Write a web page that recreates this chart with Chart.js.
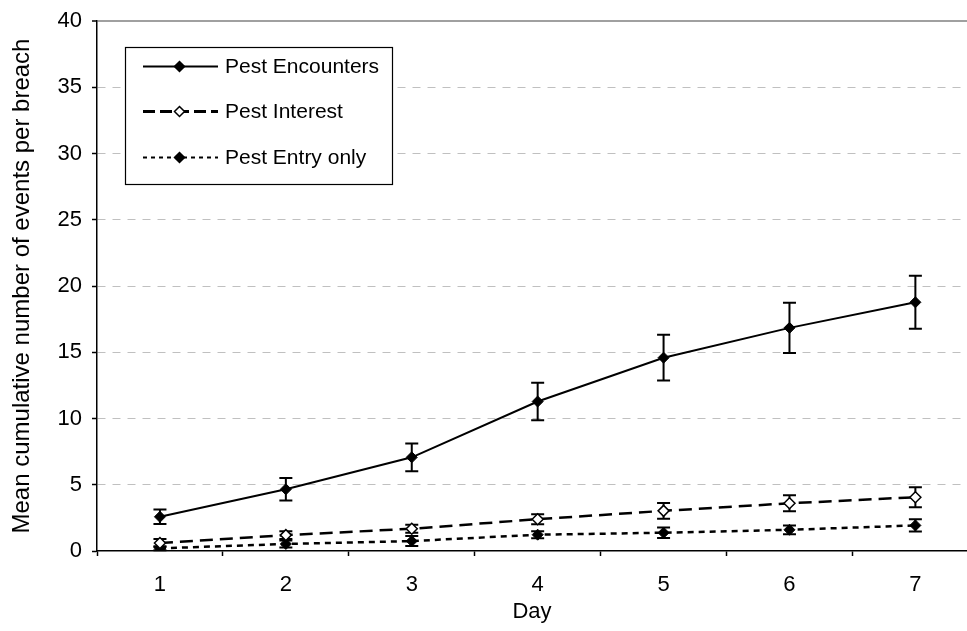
<!DOCTYPE html>
<html><head><meta charset="utf-8">
<script src="https://cdn.jsdelivr.net/npm/chart.js@4/dist/chart.umd.min.js"></script>
<style>html,body{margin:0;padding:0;background:#fff;overflow:hidden}#wrap{width:967px;height:631px;position:relative}</style>
</head><body><div id="wrap"><canvas id="c" width="967" height="631"></canvas></div>
<script>
// ---- data ----
const days = ['1', '2', '3', '4', '5', '6', '7'];
const seriesNames = ['Pest Encounters', 'Pest Interest', 'Pest Entry only'];
const encounters    = [2.58, 4.66, 7.07, 11.28, 14.59, 16.84, 18.77];
const encountersErr = [0.55, 0.85, 1.05, 1.42, 1.73, 1.90, 2.00];
const interest      = [0.60, 1.20, 1.68, 2.40, 3.03, 3.60, 4.06];
const interestErr   = [0.30, 0.30, 0.30, 0.38, 0.60, 0.60, 0.75];
const entry         = [0.20, 0.53, 0.75, 1.23, 1.38, 1.60, 1.93];
const entryErr      = [0.15, 0.27, 0.38, 0.27, 0.40, 0.33, 0.46];
const yTickValues   = [0, 5, 10, 15, 20, 25, 30, 35, 40];
const xTitle = 'Day';
const yTitle = 'Mean cumulative number of events per breach';

const FONT = "'Liberation Sans', Arial, sans-serif";
const dayNums = days.map(Number);
const toXY = arr => arr.map((v, i) => ({x: dayNums[i], y: v}));
const errs = [encountersErr, interestErr, entryErr];

const errorBars = {
  id: 'errorBars',
  beforeDatasetsDraw(chart) {
    const {ctx, scales: {x, y}} = chart;
    ctx.save();
    ctx.strokeStyle = '#000';
    ctx.lineWidth = 2;
    ctx.setLineDash([]);
    chart.data.datasets.forEach((ds, di) => {
      ds.data.forEach((p, i) => {
        const e = errs[di][i];
        const px = x.getPixelForValue(p.x);
        const yt = y.getPixelForValue(p.y + e);
        const yb = y.getPixelForValue(Math.max(0, p.y - e));
        ctx.beginPath();
        ctx.moveTo(px, yt); ctx.lineTo(px, yb);
        ctx.moveTo(px - 6.5, yt); ctx.lineTo(px + 6.5, yt);
        ctx.moveTo(px - 6.5, yb); ctx.lineTo(px + 6.5, yb);
        ctx.stroke();
      });
    });
    ctx.restore();
  }
};

const boxLegend = {
  id: 'boxLegend',
  afterDraw(chart) {
    const ctx = chart.ctx;
    ctx.save();
    ctx.fillStyle = '#fff';
    ctx.fillRect(125.5, 47.5, 267, 137);
    ctx.strokeStyle = '#000';
    ctx.lineWidth = 1.2;
    ctx.setLineDash([]);
    ctx.strokeRect(125.5, 47.5, 267, 137);
    const rows = [66.5, 111.5, 157.5];
    const legendDash = [[], [12, 5], [4, 4]];
    const legendWidth = [2, 3, 2];
    chart.data.datasets.forEach((ds, i) => {
      const yy = rows[i];
      ctx.beginPath();
      ctx.setLineDash(legendDash[i]);
      ctx.lineWidth = legendWidth[i];
      ctx.strokeStyle = '#000';
      ctx.moveTo(143, yy); ctx.lineTo(218, yy);
      ctx.stroke();
      ctx.setLineDash([]);
      const r = 5, cx = 179.5;
      ctx.beginPath();
      ctx.moveTo(cx, yy - r); ctx.lineTo(cx + r, yy); ctx.lineTo(cx, yy + r); ctx.lineTo(cx - r, yy); ctx.closePath();
      ctx.fillStyle = ds.pointBackgroundColor;
      ctx.fill();
      ctx.lineWidth = 1.5;
      ctx.stroke();
      ctx.fillStyle = '#000';
      ctx.font = '21px ' + FONT;
      ctx.textBaseline = 'middle';
      ctx.textAlign = 'left';
      ctx.fillText(ds.label, 225, yy + 1);
    });
    ctx.restore();
  }
};

const isHalf = v => Math.abs((v % 1) - 0.5) < 1e-6;

new Chart(document.getElementById('c'), {
  type: 'line',
  data: {
    datasets: [
      {label: seriesNames[0], data: toXY(encounters), borderColor: '#000', borderWidth: 2,
       pointStyle: 'rectRot', pointRadius: 5.5, pointBackgroundColor: '#000', pointBorderColor: '#000', pointBorderWidth: 1, tension: 0},
      {label: seriesNames[1], data: toXY(interest), borderColor: '#000', borderWidth: 2.5, borderDash: [13, 7],
       pointStyle: 'rectRot', pointRadius: 5.5, pointBackgroundColor: '#fff', pointBorderColor: '#000', pointBorderWidth: 1.5, tension: 0},
      {label: seriesNames[2], data: toXY(entry), borderColor: '#000', borderWidth: 2.5, borderDash: [6, 5],
       pointStyle: 'rectRot', pointRadius: 5.5, pointBackgroundColor: '#000', pointBorderColor: '#000', pointBorderWidth: 1, tension: 0}
    ]
  },
  options: {
    responsive: false,
    animation: false,
    events: [],
    layout: {autoPadding: false, padding: {top: 21, right: 0, bottom: 0, left: 0}},
    plugins: {legend: {display: false}, tooltip: {enabled: false}},
    scales: {
      x: {
        type: 'linear', min: 0.5, max: 7.41,
        afterBuildTicks: axis => {
          const t = [];
          for (let v = 0.5; v <= 7.001; v += 0.5) t.push({value: v});
          axis.ticks = t;
        },
        afterFit: s => { s.height = 80; s.paddingRight = 0; s.paddingLeft = 0; },
        ticks: {
          autoSkip: false, maxRotation: 0, padding: 16, color: '#000',
          font: {family: FONT, size: 22},
          callback: v => isHalf(v) ? '' : days[Math.round(v) - 1]
        },
        grid: {drawOnChartArea: false, drawTicks: true, tickLength: 5,
               tickColor: c => (c.tick && isHalf(c.tick.value)) ? '#000' : 'rgba(0,0,0,0)', tickWidth: 1.5},
        border: {display: true, color: '#000', width: 1.5},
        title: {display: true, text: xTitle, color: '#000', font: {family: FONT, size: 22}, padding: {top: 0, bottom: 6}}
      },
      y: {
        type: 'linear', min: 0, max: 40,
        afterBuildTicks: axis => { axis.ticks = yTickValues.map(v => ({value: v})); },
        afterFit: s => { s.width = 97; s.paddingTop = 0; s.paddingBottom = 0; },
        ticks: {padding: 10, color: '#000', font: {family: FONT, size: 22}},
        grid: {
          drawTicks: true, tickLength: 5, tickColor: '#000', tickWidth: 1.5,
          color: c => c.tick && c.tick.value === 0 ? 'rgba(0,0,0,0)' : (c.tick && c.tick.value === 40 ? '#a0a0a0' : '#c0c0c0'),
          lineWidth: c => c.tick && c.tick.value === 40 ? 2 : 1
        },
        border: {display: true, color: '#000', width: 1.5,
                 dash: c => c.tick && c.tick.value === 40 ? [] : [8, 7]},
        title: {display: true, text: yTitle, color: '#000', font: {family: FONT, size: 24}, padding: {top: 8, bottom: 0}}
      }
    }
  },
  plugins: [errorBars, boxLegend]
});
</script>
</body></html>
